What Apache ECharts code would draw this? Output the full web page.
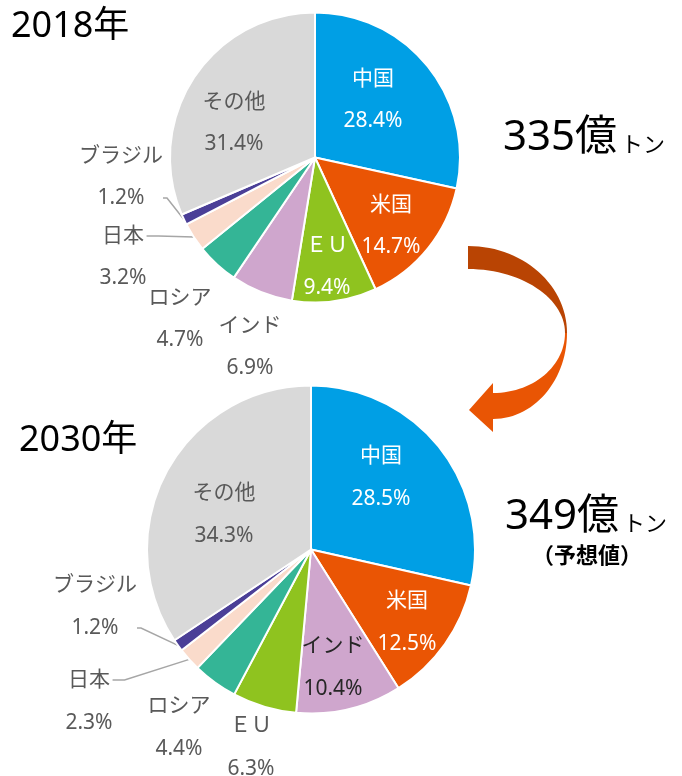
<!DOCTYPE html>
<html>
<head>
<meta charset="utf-8">
<script src="https://cdn.jsdelivr.net/npm/echarts@6/dist/echarts.min.js"></script>
<style>html,body{margin:0;padding:0;background:#fff}#c{width:682px;height:776px}</style>
</head>
<body>
<div id="c"></div>
<script>
// ---- data ----
const names2018 = ['中国', '米国', 'ＥＵ', 'インド', 'ロシア', '日本', 'ブラジル', 'その他'];
const values2018 = [28.4, 14.7, 9.4, 6.9, 4.7, 3.2, 1.2, 31.4];
const names2030 = ['中国', '米国', 'インド', 'ＥＵ', 'ロシア', '日本', 'ブラジル', 'その他'];
const values2030 = [28.5, 12.5, 10.4, 6.3, 4.4, 2.3, 1.2, 34.3];
const yearLabels = ['2018年', '2030年'];
const totalLabels = ['335億', '349億'];
const unitLabel = 'トン';
const noteLabel = '（予想値）';

// ---- styles ----
const FONT = '"Noto Sans","Noto Sans CJK JP",sans-serif';
const sliceColors = {
  '中国': '#009FE5', '米国': '#EA5504', 'ＥＵ': '#8FC31F', 'インド': '#CFA6CD',
  'ロシア': '#34B596', '日本': '#FADBCB', 'ブラジル': '#4B3F97', 'その他': '#D9D9D9'
};
const GRAY = '#595959';
const labelColor2018 = {'中国': '#fff', '米国': '#fff', 'ＥＵ': '#fff'};
const labelColor2030 = {'中国': '#fff', '米国': '#fff', 'インド': '#262626'};
// label centre positions; for 日本 / ブラジル y is the line the leader attaches to
const labelPos2018 = {
  '中国': [373, 100], '米国': [391, 226], 'ＥＵ': [327, 267], 'インド': [250, 347],
  'ロシア': [180, 319], '日本': [123, 236], 'ブラジル': [121, 198], 'その他': [234, 123]
};
const labelPos2030 = {
  '中国': [381, 478], '米国': [407, 623], 'インド': [333, 668], 'ＥＵ': [251, 748],
  'ロシア': [179, 728], '日本': [89, 680], 'ブラジル': [95, 628], 'その他': [224, 515]
};
// which text line the leader line attaches to: 'first' or 'second'
const leaderLine = {'日本': 'first', 'ブラジル': 'second'};

function buildSeries(names, values, center, radius, lh, colorMap, posMap) {
  const data = names.map((n, i) => {
    const col = colorMap[n] || GRAY;
    const item = {
      name: n,
      value: values[i],
      itemStyle: {color: sliceColors[n]},
      label: {color: col},
      labelLine: {show: false}
    };
    if (leaderLine[n]) {
      const tok = {fontSize: 21, fontFamily: FONT, lineHeight: lh, color: col, align: 'center'};
      item.label.position = 'outside';
      item.label.backgroundColor = 'rgba(255,255,255,0)';
      item.label.rich = {a: tok, s: Object.assign({}, tok, {color: 'rgba(0,0,0,0)'})};
      item.label.formatter = leaderLine[n] === 'first'
        ? p => '{s|.}\n{a|' + p.name + '}\n{a|' + p.value.toFixed(1) + '%}'
        : p => '{a|' + p.name + '}\n{a|' + p.value.toFixed(1) + '%}\n{s|.}';
      item.labelLine = {show: true, length: 8, length2: n === '日本' ? 12 : 4,
        lineStyle: {color: '#A6A6A6', width: 1.5}};
    }
    return item;
  });
  return {
    type: 'pie',
    center: center,
    radius: [0, radius],
    startAngle: 90,
    clockwise: true,
    avoidLabelOverlap: false,
    minShowLabelAngle: 0,
    animation: false,
    emphasis: {disabled: true},
    itemStyle: {borderColor: '#fff', borderWidth: 2},
    label: {
      show: true,
      position: 'inside',
      fontFamily: FONT,
      fontSize: 21,
      lineHeight: lh,
      align: 'center',
      formatter: p => p.name + '\n' + p.value.toFixed(1) + '%'
    },
    labelLine: {show: false},
    labelLayout: function (params) {
      const p = posMap[names[params.dataIndex]];
      return {x: p[0], y: p[1], align: 'center', verticalAlign: 'middle'};
    },
    data: data
  };
}

// sample cubic bezier segments into polygon points (arrow decoration)
function bez(p0, p1, p2, p3, n) {
  const pts = [];
  for (let i = 0; i <= n; i++) {
    const t = i / n, u = 1 - t;
    pts.push([
      u*u*u*p0[0] + 3*u*u*t*p1[0] + 3*u*t*t*p2[0] + t*t*t*p3[0],
      u*u*u*p0[1] + 3*u*u*t*p1[1] + 3*u*t*t*p2[1] + t*t*t*p3[1]
    ]);
  }
  return pts;
}
const arrowTop = [].concat(
  bez([468,246],[523,246],[567,285],[567,333], 30),
  bez([565,333],[565,298],[521,269],[468,269], 30)
);
const arrowBottom = [].concat(
  bez([567,333],[567,380],[534,419],[493,419], 30),
  [[493,432],[469,410],[493,383]],
  bez([493,393],[533,393],[565,366],[565,333], 30)
);

const chart = echarts.init(document.getElementById('c'), null, {renderer: 'canvas'});
chart.setOption({
  backgroundColor: '#fff',
  animation: false,
  series: [
    buildSeries(names2018, values2018, [315, 157.5], 145, 42, labelColor2018, labelPos2018),
    buildSeries(names2030, values2030, [311, 549.5], 164, 43, labelColor2030, labelPos2030)
  ],
  graphic: [
    {type: 'polygon', shape: {points: arrowTop}, style: {fill: '#B94403'}},
    {type: 'polygon', shape: {points: arrowBottom}, style: {fill: '#E95504'}},
    {type: 'text', x: 11, y: 27, style: {text: yearLabels[0], fontSize: 36, fontFamily: FONT, fill: '#000', align: 'left', verticalAlign: 'middle'}},
    {type: 'text', x: 19, y: 441, style: {text: yearLabels[1], fontSize: 36, fontFamily: FONT, fill: '#000', align: 'left', verticalAlign: 'middle'}},
    {type: 'text', x: 503, y: 138, style: {text: totalLabels[0], fontSize: 42, fontFamily: FONT, fill: '#000', align: 'left', verticalAlign: 'middle'}},
    {type: 'text', x: 621, y: 146, style: {text: unitLabel, fontSize: 22, fontFamily: FONT, fill: '#000', align: 'left', verticalAlign: 'middle'}},
    {type: 'text', x: 505, y: 517, style: {text: totalLabels[1], fontSize: 42, fontFamily: FONT, fill: '#000', align: 'left', verticalAlign: 'middle'}},
    {type: 'text', x: 623, y: 525, style: {text: unitLabel, fontSize: 22, fontFamily: FONT, fill: '#000', align: 'left', verticalAlign: 'middle'}},
    {type: 'text', x: 587, y: 557, style: {text: noteLabel, fontSize: 22, fontWeight: 'bold', fontFamily: FONT, fill: '#000', align: 'center', verticalAlign: 'middle'}}
  ]
});
</script>
</body>
</html>
